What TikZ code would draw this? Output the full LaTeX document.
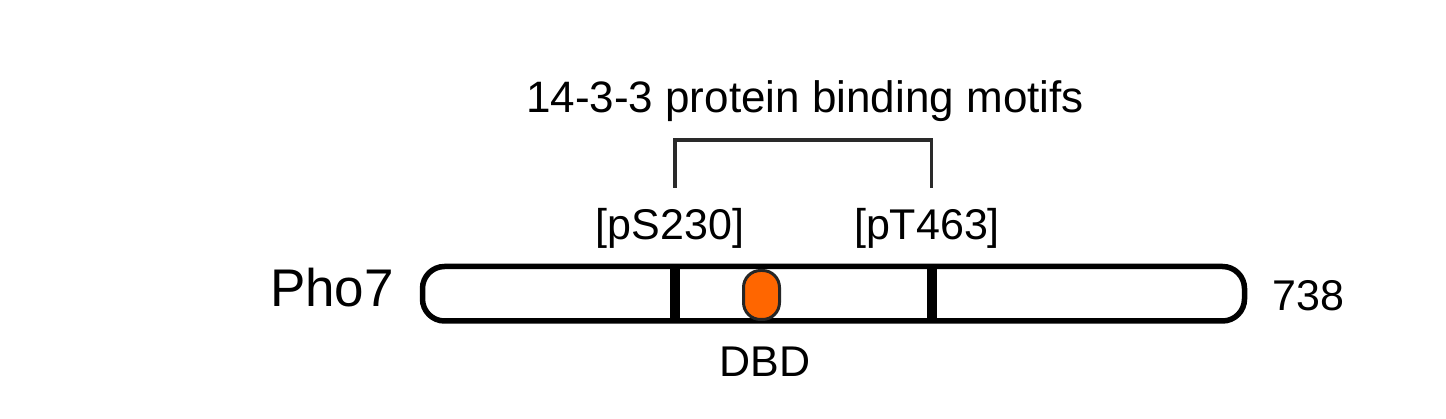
\documentclass[tikz,border=0pt]{standalone}
\usepackage{fontspec}
\setmainfont{Liberation Sans}
\definecolor{dbdorange}{HTML}{FF6600}
\definecolor{brk}{HTML}{2A2A2A}
\begin{document}
\begin{tikzpicture}[x=1pt,y=-1pt,
  lbl/.style={anchor=base,inner sep=0pt,font=\fontsize{43}{50}\selectfont},
  protbar/.style={draw=black,line width=5.5pt,rounded corners=22pt,minimum width=822pt,minimum height=54.5pt,inner sep=0pt,fill=white},
  sitetick/.style={line width=10pt,black},
  dbdbox/.style={draw=black!85,line width=3pt,fill=dbdorange,minimum width=36pt,minimum height=49pt,rounded corners=17pt,inner sep=0pt},
  bracketline/.style={draw=brk,line width=3.5pt}]
\useasboundingbox (0,0) rectangle (1446,419);
\node[protbar] (bar) at (833.5,293.75) {};
\coordinate (s1t) at (675,266.5);
\coordinate (s1b) at (675,321);
\coordinate (s2t) at (931.5,266.5);
\coordinate (s2b) at (931.5,321);
\draw[sitetick] (s1t) -- (s1b);
\draw[sitetick] (s2t) -- (s2b);
\node[dbdbox] (dbd) at (761.5,295) {};
\coordinate (b1) at (675,188);
\coordinate (b2) at (931.5,188);
\draw[bracketline] (b1) -- ++(0,-48) -| (b2);
\node[lbl,font=\fontsize{44}{50}\selectfont] (title) at (805,113) {14-3-3 protein binding motifs};
\node[lbl] (ps) at (670,240) {[pS230]};
\node[lbl] (pt) at (927,240) {[pT463]};
\node[lbl,font=\fontsize{53}{60}\selectfont] (pho) at (332,307) {Pho7};
\node[lbl,anchor=base west] (end) at (1272,311) {738};
\node[lbl] (dbdl) at (765,377) {DBD};
\end{tikzpicture}
\end{document}
